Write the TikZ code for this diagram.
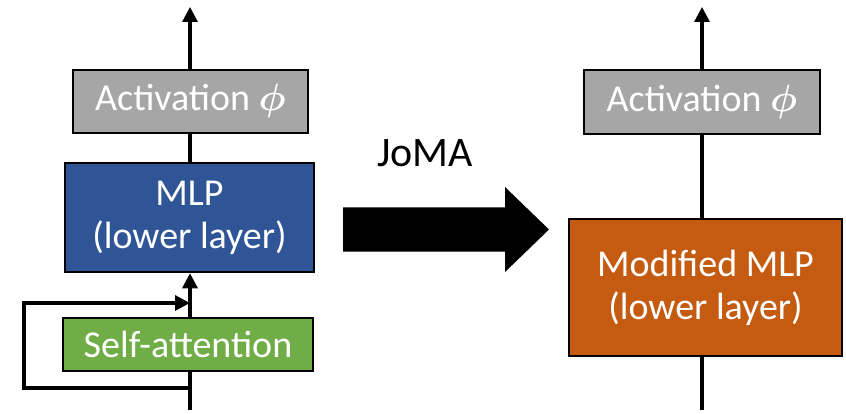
\RequirePackage{fix-cm}
\documentclass[tikz,border=0pt]{standalone}
\usepackage{amsmath}
\usepackage{fontspec}
\setmainfont{Carlito}
\usetikzlibrary{arrows.meta}

\definecolor{actgray}{HTML}{A6A6A6}
\definecolor{mlpblue}{HTML}{2F5597}
\definecolor{attgreen}{HTML}{70AD47}
\definecolor{modorange}{HTML}{C55A11}

\tikzset{
  blk/.style={draw=black, line width=2.5pt, text=white, align=center,
    inner sep=0pt, font=\fontsize{38}{43}\selectfont},
  flow/.style={line width=3.2pt, draw=black},
  tip/.style={-{Triangle[width=15pt,length=15pt]}},
}

\begin{document}
\begin{tikzpicture}[x=1pt,y=-1pt]
  \useasboundingbox (0,0) rectangle (846,414);

  % left column: self-attention block feeding the lower MLP
  \node[blk, fill=actgray, minimum width=235pt, minimum height=63pt] (act1) at (190.5,101.5) {Activation $\boldsymbol{\phi}$};
  \node[blk, fill=mlpblue, minimum width=249pt, minimum height=109pt] (mlp) at (189.5,217.5) {MLP\\(lower layer)};
  \node[blk, fill=attgreen, minimum width=250pt, minimum height=53pt] (sa) at (188,344.5) {Self-attention};

  \coordinate (top1) at (190,7);
  \coordinate (in1) at (190,410);
  \coordinate (split) at (190,388);
  \coordinate (merge) at (190,303);

  \draw[flow] (in1) -- (in1 |- sa.south);
  \draw[flow, tip] (merge |- sa.north) -- (merge |- mlp.south);
  \draw[flow, tip, line join=miter] (split) -- (24,388) -- (24,303) -- (merge);
  \draw[flow] (mlp.north -| top1) -- (act1.south -| top1);
  \draw[flow, tip] (act1.north -| top1) -- (top1);

  % transformation arrow
  \node[font=\fontsize{42}{48}\selectfont, anchor=base] (joma) at (425,167) {JoMA};
  \fill[black] (343,207.5) -- (505,207.5) -- (505,187) -- (549,229.5)
    -- (505,272) -- (505,251.5) -- (343,251.5) -- cycle;

  % right column: modified MLP
  \node[blk, fill=actgray, minimum width=236pt, minimum height=64pt] (act2) at (702,102) {Activation $\boldsymbol{\phi}$};
  \node[blk, fill=modorange, minimum width=273pt, minimum height=137pt] (mmlp) at (705.5,287.5) {Modified MLP\\(lower layer)};

  \coordinate (top2) at (702,7);
  \coordinate (in2) at (702,410);

  \draw[flow] (in2) -- (in2 |- mmlp.south);
  \draw[flow] (mmlp.north -| top2) -- (act2.south -| top2);
  \draw[flow, tip] (act2.north -| top2) -- (top2);
\end{tikzpicture}
\end{document}
